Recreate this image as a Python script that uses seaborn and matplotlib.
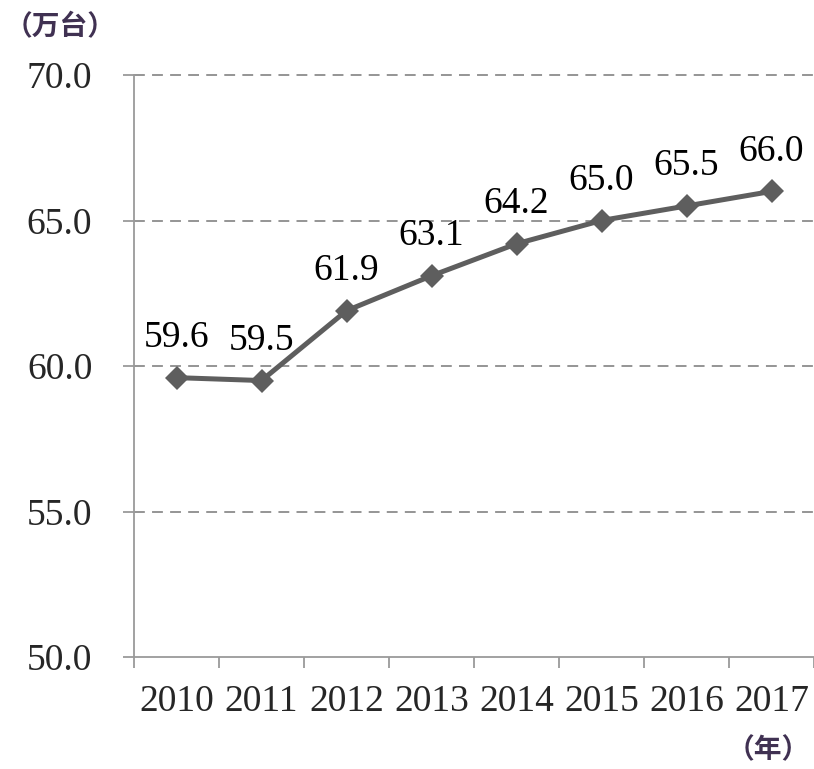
import matplotlib
matplotlib.use("Agg")
import matplotlib.pyplot as plt
import seaborn as sns
import pandas as pd

years = ["2010", "2011", "2012", "2013", "2014", "2015", "2016", "2017"]
values = [59.6, 59.5, 61.9, 63.1, 64.2, 65.0, 65.5, 66.0]
y_ticks = [50.0, 55.0, 60.0, 65.0, 70.0]

sns.set_theme(style="white")
plt.rcParams["font.family"] = ["Liberation Serif", "DejaVu Serif"]

df = pd.DataFrame({"pos": range(len(years)), "year": years, "value": values})

fig = plt.figure(figsize=(8.14, 7.69), dpi=100)
ax = fig.add_axes([134 / 814, 1 - 657 / 769, 680 / 814, (657 - 75) / 769])

line_color = "#5e5e5e"
axis_color = "#9a9a9a"
grid_color = "#8c8c8c"

# dashed horizontal gridlines (the 50 line is the x axis itself)
for yv in y_ticks[1:]:
    ax.axhline(yv, color=grid_color, lw=1.3, ls=(0, (6, 4)), zorder=1, clip_on=False)

sns.lineplot(data=df, x="pos", y="value", ax=ax, color=line_color, lw=3.6,
             marker="D", markersize=12, markeredgewidth=0, zorder=3)

for x, v in zip(df["pos"], df["value"]):
    ax.annotate(f"{v:.1f}", (x, v), xytext=(0, 22), textcoords="offset points",
                ha="center", va="baseline", fontsize=27, color="#000000")

ax.set_xlim(-0.5, len(years) - 0.5)
ax.set_ylim(50, 70)
ax.set_yticks(y_ticks)
ax.set_yticklabels([f"{t:.1f}" for t in y_ticks], fontsize=27)
ax.set_xticks(range(len(years)))
ax.set_xticklabels(years, fontsize=27)
ax.set_xticks([i - 0.5 for i in range(len(years) + 1)], minor=True)
ax.tick_params(axis="x", which="major", bottom=True, length=0, pad=20)
ax.tick_params(axis="x", which="minor", bottom=True, length=8, width=1.3,
               color=axis_color, direction="out")
ax.tick_params(axis="y", which="major", left=True, length=8, width=1.3,
               color=axis_color, pad=22, direction="out")
ax.set_xlabel("")
ax.set_ylabel("")

for side in ["top", "right"]:
    ax.spines[side].set_visible(False)
for side in ["left", "bottom"]:
    ax.spines[side].set_color(axis_color)
    ax.spines[side].set_linewidth(1.3)

cjk = ["Noto Sans CJK SC", "DejaVu Sans"]
fig.text(60 / 814, 1 - 27 / 769, "（万台）", family=cjk, fontsize=20,
         color="#403152", ha="center", va="center", fontweight="bold")
fig.text(768 / 814, 1 - 750 / 769, "（年）", family=cjk, fontsize=20,
         color="#403152", ha="center", va="center", fontweight="bold")

fig.savefig("out.png", dpi=100)
